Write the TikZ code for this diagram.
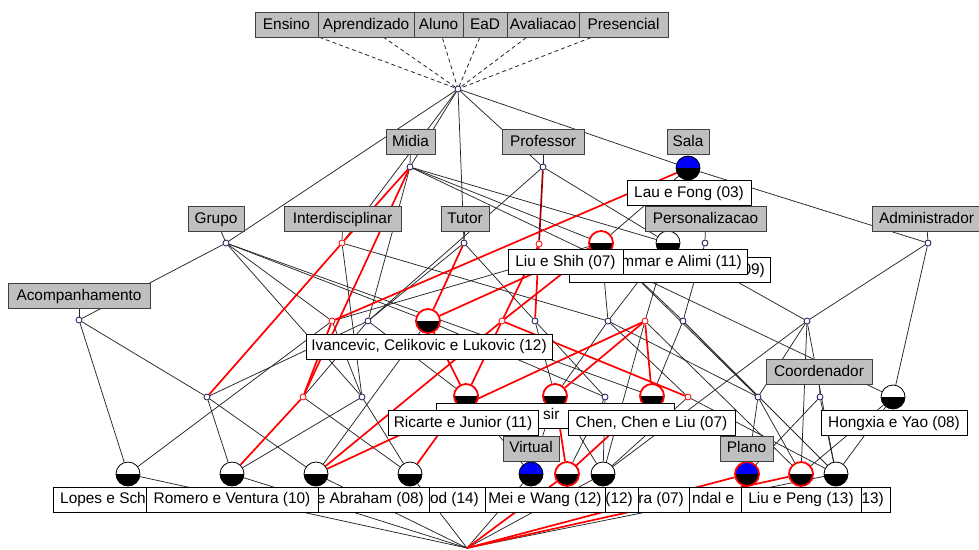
\documentclass[tikz,border=0pt]{standalone}
\usepackage{fontspec}
\setmainfont{Liberation Sans}
\pgfdeclarelayer{bg}
\pgfsetlayers{bg,main}
\begin{document}
\begin{tikzpicture}[x=1pt,y=-1pt,
  lblfont/.style={font=\fontsize{15.4}{18}\selectfont},
  edge/.style={draw=black!85, line width=0.75pt},
  redge/.style={draw=red, line width=1.7pt},
  dredge/.style={draw={rgb,255:red,150;green,0;blue,0}, line width=1.7pt},
  dedge/.style={draw=black!85, line width=0.8pt, dash pattern=on 4pt off 3pt},
  attr/.style={lblfont, draw=black!75, fill=black!25, line width=0.8pt, inner sep=0pt,
    minimum height=25pt, text height=11.5pt, text depth=3pt},
  obj/.style={lblfont, draw=black, fill=white, line width=0.8pt, inner sep=0pt,
    minimum height=25pt, text height=11.5pt, text depth=3pt},
  frag/.style={lblfont, inner sep=0pt, text height=11.5pt, text depth=3pt},
  dot/.style={circle, draw={rgb,255:red,20;green,20;blue,90}, fill=white, line width=0.8pt,
    inner sep=0pt, minimum size=6pt},
  rdot/.style={dot, draw=red},
  concept/.style={circle, minimum size=24pt, inner sep=0pt, fill=black, draw=black,
    line width=0.8pt, path picture={\fill[#1] (path picture bounding box.west)
      rectangle (path picture bounding box.north east);}},
  concept/.default=white,
  ring/.style={draw=red, line width=1.8pt}
]
\useasboundingbox (0,0) rectangle (979,549);

% ---- lattice vertices: small attribute/meet nodes
\node[dot] (T) at (458,89) {};
\node[dot] (mid) at (410,167) {};
\node[dot] (prof) at (543,167) {};
\node[dot] (grupo) at (226,243) {};
\node[rdot] (inter) at (342,243) {};
\node[dot] (tutor) at (464,243) {};
\node[rdot] (ls) at (539,244) {};
\node[dot] (pers) at (705,243) {};
\node[dot] (admin) at (928,243) {};
\node[dot] (acomp) at (79,320) {};
\node[rdot] (n332) at (332,321) {};
\node[dot] (n368) at (368,321) {};
\node[rdot] (n502) at (502,321) {};
\node[dot] (n535) at (535,321) {};
\node[dot] (n608) at (608,321) {};
\node[rdot] (n645) at (645,321) {};
\node[dot] (n683) at (683,321) {};
\node[dot] (n807) at (807,321) {};
\node[dot] (n207) at (207,397) {};
\node[rdot] (n303) at (303,397) {};
\node[dot] (n362) at (362,397) {};
\node[dot] (n605) at (605,397) {};
\node[rdot] (n688) at (688,397) {};
\node[dot] (n758) at (758,397) {};
\node[dot] (coord) at (820,397) {};
\coordinate (B) at (467,548);

% ---- object concepts (half-filled circles)
\node[concept=blue] (sala) at (688,168) {};
\node[concept, ring] (c601) at (601,243) {};
\node[concept] (c668) at (668,243) {};
\node[concept, ring] (c428) at (428,321) {};
\node[concept, ring] (c466) at (466,396) {};
\node[concept, ring] (c555) at (555,396) {};
\node[concept, ring] (c652) at (652,396) {};
\node[concept] (c893) at (893,397) {};
\node[concept] (c128) at (128,474) {};
\node[concept] (c232) at (232,474) {};
\node[concept] (c316) at (316,474) {};
\node[concept] (c410) at (410,474) {};
\node[concept=blue] (mei) at (531,474) {};
\node[concept, ring] (c567) at (567,474) {};
\node[concept] (c603) at (603,474) {};
\node[concept=blue, ring] (plano) at (747,474) {};
\node[concept, ring] (c801) at (801,474) {};
\node[concept] (c836) at (836,474) {};

% ---- attributes of the top concept
\node[attr, minimum width=63pt] (aEnsino) at (286.5,25) {Ensino};
\node[attr, minimum width=96pt] (aAprend) at (366,25) {Aprendizado};
\node[attr, minimum width=49pt] (aAluno) at (438.5,25) {Aluno};
\node[attr, minimum width=44pt] (aEaD) at (485,25) {EaD};
\node[attr, minimum width=72pt] (aAval) at (543,25) {Avaliacao};
\node[attr, minimum width=89pt] (aPres) at (623.5,25) {Presencial};

% ---- attribute labels
\node[attr, minimum width=49pt] (aMidia) at (410.5,142) {Midia};
\node[attr, minimum width=82pt] (aProf) at (543,142) {Professor};
\node[attr, minimum width=42pt] (aSala) at (688,142) {Sala};
\node[attr, minimum width=56pt] (aGrupo) at (216,219) {Grupo};
\node[attr, minimum width=117pt] (aInter) at (342.5,219) {Interdisciplinar};
\node[attr, minimum width=48pt] (aTutor) at (465,219) {Tutor};
\node[attr, minimum width=121pt] (aPers) at (705.5,219) {Personalizacao};
\node[attr, minimum width=109pt] (aAdmin) at (926.5,219) {Administrador};
\node[attr, minimum width=142pt] (aAcomp) at (79,296) {Acompanhamento};
\node[attr, minimum width=106pt] (aCoord) at (819,372) {Coordenador};

% ---- object labels, upper part
\node[obj, minimum width=124pt] (lLau) at (689,193) {Lau e Fong (03)};
\node[obj, minimum width=201pt] (l09) at (669.5,270) {};
\node[frag, anchor=east] (l09t) at (765,270) {09)};
\node[obj, minimum width=158pt] (lAlimi) at (668,262) {};
\node[frag, anchor=east] (lAlimit) at (742,262) {mmar e Alimi (11)};
\node[obj, minimum width=115pt] (lLiu) at (565.5,262) {Liu e Shih (07)};
\node[obj, minimum width=246pt] (lIvan) at (429,346.5) {Ivancevic, Celikovic e Lukovic (12)};
\node[obj, minimum width=238pt] (lSir) at (555,415.5) {};
\node[frag, anchor=west] (lSirt) at (543,415.5) {sir};
\node[obj, minimum width=150pt] (lRic) at (463,423) {Ricarte e Junior (11)};
\node[obj, minimum width=167pt] (lChen) at (651.5,423) {Chen, Chen e Liu (07)};
\node[obj, minimum width=146pt] (lHong) at (894,423) {Hongxia e Yao (08)};
\node[attr, minimum width=56pt] (aVirtual) at (531,448.5) {Virtual};
\node[attr, minimum width=53pt] (aPlano) at (746.5,448.5) {Plano};

% ---- object labels, bottom row (later ones lie on top)
\node[obj, minimum width=150pt] (lLopes) at (128,499.5) {};
\node[frag, anchor=west] (lLopest) at (60,499.5) {Lopes e Sch};
\node[obj, minimum width=150pt] (lOd) at (410,499.5) {};
\node[frag, anchor=east] (lOdt) at (479,499.5) {od (14)};
\node[obj, minimum width=226pt] (lAbr) at (316,499.5) {};
\node[frag, anchor=east] (lAbrt) at (424,499.5) {e Abraham (08)};
\node[obj, minimum width=172pt] (lRom) at (232,499.5) {Romero e Ventura (10)};
\node[obj, minimum width=174pt] (lNdal) at (747,499.5) {};
\node[frag, anchor=west] (lNdalt) at (692,499.5) {ndal e};
\node[obj, minimum width=172pt] (lRa) at (603,499.5) {};
\node[frag, anchor=east] (lRat) at (684,499.5) {ra (07)};
\node[obj, minimum width=142pt] (l12) at (567,499.5) {};
\node[frag, anchor=east] (l12t) at (633,499.5) {(12)};
\node[obj, minimum width=120pt] (lMei) at (545,499.5) {Mei e Wang (12)};
\node[obj, minimum width=108pt] (l13) at (836,499.5) {};
\node[frag, anchor=east] (l13t) at (884,499.5) {13)};
\node[obj, minimum width=120pt] (lPeng) at (801,499.5) {Liu e Peng (13)};

\begin{pgfonlayer}{bg}
% top attributes
\foreach \a in {aEnsino,aAprend,aAluno,aEaD,aAval,aPres}
  \draw[dedge] (\a.center) -- (T);
% attribute label ticks
\foreach \a/\b in {aMidia/mid,aProf/prof,aGrupo/grupo,aInter/inter,aTutor/tutor,
                  aPers/pers,aAdmin/admin,aAcomp/acomp,aCoord/coord}
  \draw[edge] (\a.center) -- (\b);
% black edges
\foreach \u/\v in {T/grupo,T/mid,T/inter,T/tutor,T/prof,T/sala,
  mid/c601,mid/c668,mid/n368,mid/c893,
  prof/n368,prof/c668,
  sala/c601,sala/admin,
  grupo/acomp,grupo/n332,grupo/n362,grupo/c428,grupo/c652,
  inter/n362,inter/n608,
  tutor/n368,tutor/n535,
  c601/n608,c601/n683,c601/n758,c601/n332,
  c668/n608,c668/n807,c668/n645,
  pers/n683,
  admin/n807,admin/c893,
  acomp/c128,acomp/n207,
  n332/c128,n332/n362,
  n368/n207,n368/n303,n368/c466,
  c428/n605,c428/c316,
  n535/n605,n535/c555,
  n608/c555,n608/n688,n608/n758,
  n645/c603,n645/c801,
  n683/n758,n683/c836,n683/c652,
  n807/n758,n807/c603,n807/c801,n807/c836,
  n207/c232,n207/c316,
  n303/c410,
  n362/c232,n362/c410,
  c466/mei,
  c555/mei,c555/c603,
  n605/c567,n605/c603,
  n688/c603,n688/c836,
  n758/plano,n758/c801,
  coord/plano,coord/c836,
  c893/c836,c893/c801,
  c128/B,c232/B,c316/B,c410/B,mei/B,c603/B,c836/B}
  \draw[edge] (\u) -- (\v);
% highlighted edges
\foreach \u/\v in {mid/inter,mid/n303,inter/n207,sala/n332,tutor/c428,
  ls/n502,ls/n535,c601/c428,c601/n502,n502/n688,n502/c466,
  c316/n502,c316/n645,c410/c466,n303/c232,c555/c567,c652/c567,
  n645/c652,c428/c466,c555/n645,n332/n303,
  c567/B,plano/B,c801/B}
  \draw[redge] (\u) -- (\v);
\draw[dredge] (prof) -- (ls);
\end{pgfonlayer}
\end{tikzpicture}
\end{document}
